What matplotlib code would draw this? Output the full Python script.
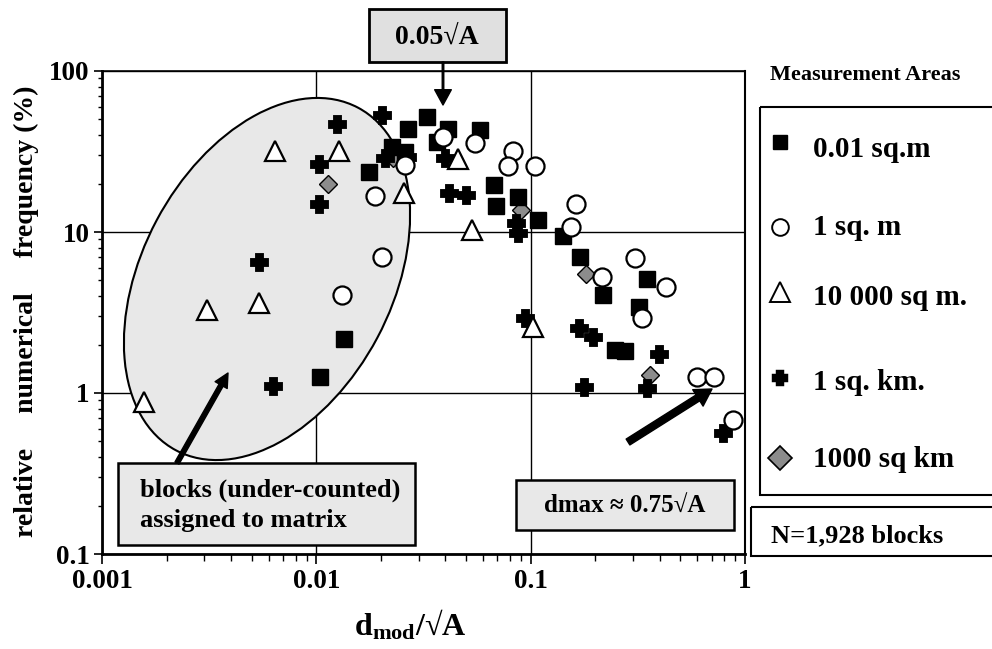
import matplotlib
matplotlib.use("Agg")
import matplotlib.pyplot as plt
from matplotlib.patches import Ellipse, Rectangle

plt.rcParams['font.family'] = ['Liberation Serif', 'DejaVu Serif']
plt.rcParams['font.weight'] = 'bold'
plt.rcParams['mathtext.fontset'] = 'custom'
plt.rcParams['mathtext.rm'] = 'Liberation Serif:bold'
plt.rcParams['mathtext.it'] = 'Liberation Serif:bold'
plt.rcParams['mathtext.bf'] = 'Liberation Serif:bold'

# d_mod / sqrt(A)  vs  relative numerical frequency (%), one pair of lists per measurement area
sq_x = [0.0329, 0.0268, 0.041, 0.058, 0.0366, 0.0225, 0.0259, 0.0176, 0.0675, 0.069, 0.0874,
        0.108, 0.141, 0.170, 0.218, 0.35, 0.32, 0.248, 0.275, 0.0135, 0.0104]
sq_y = [51.8, 43.6, 43.6, 43.0, 36.2, 33.7, 31.4, 23.5, 19.6, 14.5, 16.5,
        11.9, 9.45, 7.0, 4.06, 5.1, 3.4, 1.85, 1.82, 2.16, 1.26]

m1_x = [0.039, 0.055, 0.0259, 0.0828, 0.0784, 0.105, 0.0188, 0.0203, 0.0132, 0.163, 0.154,
        0.307, 0.215, 0.428, 0.33, 0.598, 0.718, 0.879]
m1_y = [38.9, 35.7, 26.0, 31.9, 25.7, 25.7, 16.7, 7.0, 4.06, 14.9, 10.7,
        6.9, 5.25, 4.55, 2.92, 1.26, 1.26, 0.68]

m10k_x = [0.00157, 0.0031, 0.0054, 0.0064, 0.0128, 0.0257, 0.046, 0.0533, 0.102]
m10k_y = [0.88, 3.28, 3.62, 32.0, 31.9, 17.5, 28.3, 10.3, 2.57]

km1_x = [0.0125, 0.0103, 0.0103, 0.0203, 0.0209, 0.0265, 0.040, 0.0414, 0.050, 0.085, 0.087,
         0.094, 0.168, 0.195, 0.398, 0.35, 0.178, 0.79, 0.0054, 0.0063]
km1_y = [46.9, 26.4, 14.9, 53.3, 28.8, 29.2, 29.0, 17.5, 16.9, 11.4, 9.86,
         2.92, 2.53, 2.23, 1.75, 1.07, 1.09, 0.565, 6.5, 1.10]

km1000_x = [0.0113, 0.0228, 0.09, 0.181, 0.36]
km1000_y = [19.8, 29.0, 13.7, 5.49, 1.29]

legend_labels = ['0.01 sq.m', '1 sq. m', '10 000 sq m.', '1 sq. km.', '1000 sq km']
x_ticks = [0.001, 0.01, 0.1, 1]
x_tick_labels = ['0.001', '0.01', '0.1', '1']
y_ticks = [0.1, 1, 10, 100]
y_tick_labels = ['0.1', '1', '10', '100']

W, H = 992, 649
fig = plt.figure(figsize=(W / 100, H / 100), dpi=100)
fig.patch.set_facecolor('white')

# main log-log axes (pixel box 102..745 x 71..554)
ax = fig.add_axes([102 / W, 1 - 554 / H, 643 / W, 483 / H])
# overlay in pixel units for boxes, arrows and the legend
lax = fig.add_axes([0, 0, 1, 1], zorder=5)
lax.set_xlim(0, W)
lax.set_ylim(H, 0)
lax.axis('off')

ax.set_xscale('log')
ax.set_yscale('log')
ax.set_xlim(0.001, 1)
ax.set_ylim(0.1, 100)
ax.set_axisbelow(True)
ax.grid(True, which='major', color='black', lw=1.0)
ax.grid(False, which='minor')
ax.set_xticks(x_ticks)
ax.set_xticklabels(x_tick_labels)
ax.set_yticks(y_ticks)
ax.set_yticklabels(y_tick_labels)
ax.tick_params(axis='x', which='major', direction='out', length=7, width=1.2, pad=4, labelsize=19.5)
ax.tick_params(axis='x', which='minor', direction='out', length=5, width=1.0)
ax.tick_params(axis='y', which='major', direction='out', length=6, width=1.2, pad=3, labelsize=19.5)
ax.tick_params(axis='y', which='minor', direction='out', length=3, width=1.0)
ax.spines['left'].set_linewidth(2)
ax.spines['bottom'].set_linewidth(2)
ax.spines['top'].set_linewidth(1.2)
ax.spines['right'].set_linewidth(1.5)

# shaded region of under-counted blocks
ell = Ellipse((267, 279), width=388, height=250, angle=-62, transform=lax.transData,
              facecolor='#e8e8e8', edgecolor='black', lw=1.5, zorder=1)
ax.add_patch(ell)

ax.plot(km1000_x, km1000_y, ls='none', marker='D', ms=9.5, mfc='#8c8c8c', mec='black', mew=1.0, zorder=3)
ax.plot(km1_x, km1_y, ls='none', marker='P', ms=9.5, mfc='black', mec='black', mew=3.5, zorder=4)
ax.plot(sq_x, sq_y, ls='none', marker='s', ms=12, mfc='black', mec='black', mew=1.0, zorder=5)
ax.plot(m1_x, m1_y, ls='none', marker='o', ms=13, mfc='white', mec='black', mew=1.6, zorder=6)
ax.plot(m10k_x, m10k_y, ls='none', marker='^', ms=15, mfc='white', mec='black', mew=1.6, zorder=7)

# annotation boxes
lax.add_patch(Rectangle((369, 9), 137, 53, fc='#e0e0e0', ec='black', lw=2))
lax.text(437, 37, '0.05√A', ha='center', va='center', fontsize=20)
lax.annotate('', xy=(443, 105), xytext=(443, 62),
             arrowprops=dict(facecolor='black', edgecolor='black', width=1.1, headwidth=12, headlength=11, shrink=0))

lax.annotate('', xy=(228, 373), xytext=(177, 463),
             arrowprops=dict(facecolor='black', edgecolor='black', width=3.3, headwidth=10, headlength=10, shrink=0))
lax.add_patch(Rectangle((118, 463), 297, 82, fc='#e8e8e8', ec='black', lw=1.8))
lax.text(140, 497, 'blocks (under-counted)', ha='left', va='baseline', fontsize=19)
lax.text(140, 527, 'assigned to matrix', ha='left', va='baseline', fontsize=19)

lax.annotate('', xy=(712, 389), xytext=(628, 442),
             arrowprops=dict(facecolor='black', edgecolor='black', width=5, headwidth=14, headlength=12, shrink=0))
lax.add_patch(Rectangle((516, 480), 218, 50, fc='#e8e8e8', ec='black', lw=1.8))
lax.text(625, 505, 'dmax ≈ 0.75√A', ha='center', va='center', fontsize=18)

# legend drawn by hand
lax.text(865, 75, 'Measurement Areas', ha='center', va='center', fontsize=16)
lax.add_patch(Rectangle((760, 107), 260, 388, fill=False, ec='black', lw=1.5))
leg_marks = [dict(marker='s', ms=10, mfc='black', mec='black'),
             dict(marker='o', ms=12, mfc='white', mec='black', mew=1.4),
             dict(marker='^', ms=14, mfc='white', mec='black', mew=1.4),
             dict(marker='P', ms=9, mfc='black', mec='black', mew=3.2),
             dict(marker='D', ms=12, mfc='#8c8c8c', mec='black', mew=1.2)]
mark_y = [142, 227, 292, 378, 458]
text_base = [157, 235, 305, 390, 467]
for lab, mk, my, ty in zip(legend_labels, leg_marks, mark_y, text_base):
    lax.plot([780], [my], ls='none', **mk)
    lax.text(813, ty, lab, ha='left', va='baseline', fontsize=21)

lax.add_patch(Rectangle((751, 507), 260, 49, fill=False, ec='black', lw=1.5))
lax.text(771, 542, 'N=1,928 blocks', ha='left', va='baseline', fontsize=19)

# axis titles
lax.text(26, 311, 'relative     numerical     frequency (%)', rotation=90, ha='center', va='center', fontsize=20)
lax.text(410, 625, r'd$_{\rm mod}$/√A', ha='center', va='center', fontsize=23)

fig.savefig('out.png', dpi=100)
